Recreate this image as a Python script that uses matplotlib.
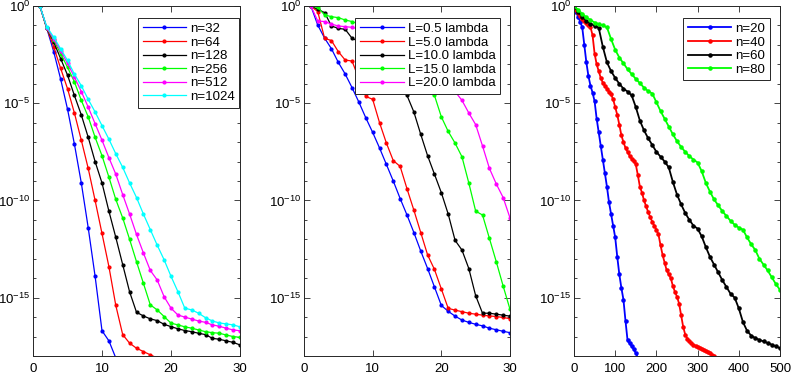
import numpy as np
import matplotlib.pyplot as plt

plt.rcParams['font.family'] = ['Liberation Sans', 'DejaVu Sans']
plt.rcParams['mathtext.default'] = 'regular'

# ---- panel 1: convergence for different n (log10 of residual) ----
n_labels = ['n=32', 'n=64', 'n=128', 'n=256', 'n=512', 'n=1024']
n_colors = ['b', 'r', 'k', (0, 1, 0), (1, 0, 1), (0, 1, 1)]
n32 = [0, -1.15, -2.35, -3.75, -5.3, -7.1, -9.1, -11.4, -13.9, -16.7, -17.22, -18.1]
n64 = [0, -1.15, -2.1, -3.2, -4.25, -5.5, -6.9, -8.35, -10.0, -11.7, -13.4, -15.4,
       -16.9, -17.34, -17.6, -17.77, -17.94, -18.1]
n128 = [0, -1.15, -1.85, -2.7, -3.55, -4.6, -5.6, -6.75, -8.0, -9.1, -10.55, -11.9,
        -13.3, -14.7, -15.75, -15.94, -16.09, -16.18, -16.37, -16.49, -16.6, -16.69,
        -16.75, -16.83, -16.9, -17.09, -17.14, -17.22, -17.3, -17.43]
n256 = [0, -1.15, -1.75, -2.45, -3.15, -3.9, -4.85, -5.7, -6.75, -7.7, -8.8, -9.95,
        -10.9, -12.0, -13.15, -14.26, -15.37, -15.63, -15.97, -16.31, -16.4, -16.5,
        -16.57, -16.66, -16.75, -16.8, -16.83, -16.92, -17.0, -17.04]
n512 = [0, -1.12, -1.7, -2.3, -2.95, -3.65, -4.4, -5.2, -6.05, -6.9, -7.8, -8.65,
        -9.7, -10.7, -11.75, -12.7, -13.6, -14.09, -14.95, -15.54, -15.89, -16.0,
        -16.1, -16.2, -16.27, -16.4, -16.47, -16.57, -16.66, -16.7]
n1024 = [0, -1.07, -1.6, -2.2, -2.8, -3.5, -4.1, -4.8, -5.45, -6.15, -6.85, -7.6,
         -8.3, -9.1, -9.85, -10.7, -11.5, -12.3, -13.05, -13.9, -14.69, -15.54,
         -15.63, -15.8, -16.03, -16.2, -16.3, -16.35, -16.4, -16.5]
panel1 = [n32, n64, n128, n256, n512, n1024]

# ---- panel 2: convergence for different L ----
L_labels = ['L=0.5 lambda', 'L=5.0 lambda', 'L=10.0 lambda', 'L=15.0 lambda', 'L=20.0 lambda']
L_colors = ['b', 'r', 'k', (0, 1, 0), (1, 0, 1)]
L05 = [0, -0.98, -1.65, -2.2, -2.9, -3.5, -4.2, -4.95, -5.75, -6.5, -7.3, -8.15, -9.0,
       -9.9, -10.75, -11.65, -12.6, -13.5, -14.45, -15.4, -15.7, -15.95, -16.15, -16.27,
       -16.37, -16.45, -16.57, -16.65, -16.73, -16.8]
L5 = [0, -0.29, -1.66, -1.78, -2.35, -2.78, -2.83, -3.75, -4.65, -4.8, -6.0, -7.05,
      -7.95, -8.25, -9.4, -10.5, -11.65, -12.8, -13.55, -14.55, -15.55, -15.64, -15.72,
      -15.8, -15.85, -15.9, -15.94, -15.97, -16.02, -16.08]
L10 = [0, -0.17, -0.34, -1.03, -1.15, -1.2, -1.66, -1.83, -2.0, -2.3, -2.7, -3.1, -3.6,
       -4.0, -4.6, -5.45, -6.6, -7.7, -8.65, -9.6, -10.7, -12.05, -12.55, -13.5, -14.9,
       -15.8, -15.8, -15.85, -15.9, -15.95]
L15 = [0, -0.07, -0.46, -0.55, -0.6, -0.72, -0.8, -0.93, -1.2, -1.5, -1.8, -2.1, -2.4,
       -2.7, -3.0, -3.3, -3.6, -4.0, -4.6, -5.7, -6.45, -7.05, -7.75, -9.1, -10.55,
       -10.75, -11.95, -13.15, -14.4, -15.6]
L20 = [0, -0.77, -0.8, -0.93, -1.03, -1.06, -1.1, -1.18, -1.27, -1.4, -1.55, -1.7,
       -1.85, -2.0, -2.2, -2.4, -2.6, -2.85, -3.1, -3.5, -3.9, -4.4, -4.85, -5.5, -6.1,
       -7.2, -8.35, -9.15, -9.85, -10.9]
panel2 = [L05, L5, L10, L15, L20]

# ---- panel 3: long runs, sampled every 5 / 10 iterations ----
m_labels = ['n=20', 'n=40', 'n=60', 'n=80']
m_colors = ['b', 'r', 'k', (0, 1, 0)]
m20_it = np.arange(0, 156, 5)
m20 = [0, -0.3, -0.55, -0.8, -1.1, -2.0, -2.9, -3.6, -4.1, -4.45, -4.9, -5.8, -6.5,
       -7.2, -7.9, -8.6, -9.3, -10.1, -10.7, -11.3, -11.9, -12.9, -13.8, -14.5, -15.1,
       -16.2, -17.2, -17.35, -17.5, -17.65, -17.85, -18.1]
m40_it = np.arange(0, 341, 5)
m40 = [0, -0.2, -0.35, -0.5, -0.65, -0.77, -0.88, -0.98, -1.08, -1.5, -2.45, -3.0,
       -3.35, -3.7, -3.95, -4.1, -4.25, -4.4, -4.55, -4.8, -5.2, -5.6, -6.1, -6.65,
       -7.0, -7.3, -7.5, -7.7, -7.85, -7.95, -8.15, -8.7, -9.3, -9.6, -10.0, -10.3,
       -10.6, -10.85, -11.1, -11.3, -11.5, -11.75, -12.3, -12.8, -13.2, -13.6, -13.8,
       -14.0, -14.4, -14.7, -14.95, -15.3, -15.9, -16.5, -16.9, -17.1, -17.25, -17.35,
       -17.42, -17.48, -17.53, -17.58, -17.63, -17.68, -17.74, -17.8, -17.87, -17.94,
       -18.02]
m60_it = np.arange(0, 501, 10)
m60 = [0, -0.3, -0.55, -0.75, -0.9, -1.02, -1.12, -2.1, -2.9, -3.35, -3.7, -4.0, -4.25,
       -4.4, -4.6, -5.2, -5.9, -6.4, -6.8, -7.15, -7.5, -7.75, -8.0, -8.3, -9.05, -9.7,
       -10.2, -10.65, -11.0, -11.3, -11.45, -11.85, -12.4, -12.9, -13.3, -13.7, -14.1,
       -14.45, -14.8, -15.0, -15.55, -16.25, -16.7, -16.95, -17.08, -17.17, -17.25,
       -17.33, -17.42, -17.5, -17.6]
m80_it = np.arange(0, 501, 10)
m80 = [0, -0.2, -0.4, -0.58, -0.72, -0.85, -0.93, -1.0, -1.1, -1.7, -2.25, -2.65,
       -2.95, -3.25, -3.5, -3.75, -3.97, -4.2, -4.38, -4.5, -4.95, -5.4, -5.8, -6.2,
       -6.6, -6.95, -7.25, -7.5, -7.72, -7.9, -8.05, -8.5, -9.1, -9.55, -9.95, -10.25,
       -10.55, -10.8, -11.05, -11.25, -11.4, -11.5, -11.9, -12.25, -12.55, -13.0, -13.3,
       -13.6, -13.95, -14.3, -14.6]
panel3 = [(m20_it, m20), (m40_it, m40), (m60_it, m60), (m80_it, m80)]

edge = (0.15, 0.15, 0.15)
fig = plt.figure(figsize=(7.92, 3.76), dpi=100)
ax1 = fig.add_axes([33 / 792, 20 / 376, 207 / 792, 350 / 376])
ax2 = fig.add_axes([304 / 792, 20 / 376, 206 / 792, 350 / 376])
ax3 = fig.add_axes([574 / 792, 20 / 376, 206 / 792, 350 / 376])

for vals, lab, col in zip(panel1, n_labels, n_colors):
    it = np.arange(1, len(vals) + 1)
    ax1.semilogy(it, 10.0 ** np.array(vals), '.-', color=col, lw=0.9, ms=4, label=lab)

for vals, lab, col in zip(panel2, L_labels, L_colors):
    it = np.arange(1, len(vals) + 1)
    ax2.semilogy(it, 10.0 ** np.array(vals), '.-', color=col, lw=0.9, ms=4, label=lab)

for (it, vals), lab, col in zip(panel3, m_labels, m_colors):
    ax3.semilogy(it, 10.0 ** np.array(vals), '.-', color=col, lw=1.3, ms=4.5, label=lab)

for ax, xmax, xt in [(ax1, 30, [0, 10, 20, 30]), (ax2, 30, [0, 10, 20, 30]),
                     (ax3, 500, [0, 100, 200, 300, 400, 500])]:
    ax.set_xlim(0, xmax)
    ax.set_ylim(1e-18, 1e0)
    ax.set_xticks(xt)
    ax.set_yticks([1e0, 1e-5, 1e-10, 1e-15])
    ax.set_yticklabels(['$10^{0}$', '$10^{-5}$', '$10^{-10}$', '$10^{-15}$'])
    ax.set_yticks([10.0 ** -k for k in range(19)], minor=True)
    ax.tick_params(which='both', direction='in', top=True, right=True,
                   labelsize=9.5, colors=edge, labelcolor='black')
    ax.tick_params(which='major', length=4, width=0.6)
    ax.tick_params(which='minor', length=2.5, width=0.6, labelleft=False)
    ax.tick_params(axis='x', pad=5)
    ax.tick_params(axis='y', pad=2)
    for s in ax.spines.values():
        s.set_color(edge)
        s.set_linewidth(0.7)

for ax, anchor in [(ax1, (0.997, 0.965)), (ax2, (0.951, 0.965)), (ax3, (0.951, 0.965))]:
    leg = ax.legend(loc='upper right', bbox_to_anchor=anchor, fontsize=9.5, fancybox=False,
                    framealpha=1, edgecolor=edge, handlelength=3.3, handletextpad=0.3,
                    labelspacing=0.1, borderpad=0.35, borderaxespad=0, numpoints=1)
    leg.get_frame().set_linewidth(0.7)

fig.savefig('out.png', dpi=100)
